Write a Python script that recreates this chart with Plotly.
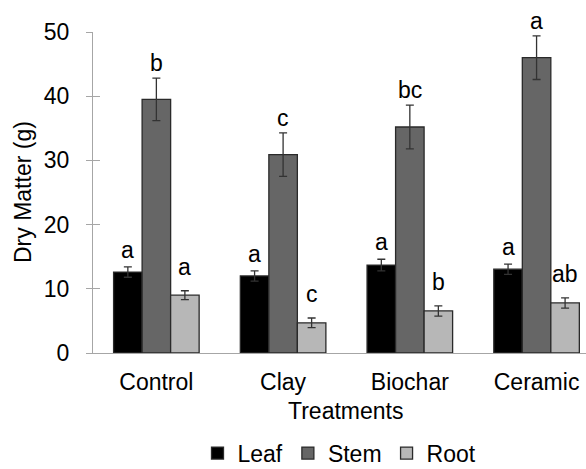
import plotly.graph_objects as go

categories = ["Control", "Clay", "Biochar", "Ceramic"]
leaf = [12.6, 12.0, 13.7, 13.05]
stem = [39.5, 30.9, 35.2, 46.0]
root = [9.0, 4.7, 6.55, 7.8]
leaf_err = [0.8, 0.8, 0.9, 0.8]
stem_err = [3.3, 3.4, 3.4, 3.4]
root_err = [0.7, 0.75, 0.8, 0.8]
leaf_letters = ["a", "a", "a", "a"]
stem_letters = ["b", "c", "bc", "a"]
root_letters = ["a", "c", "b", "ab"]

FONT = "Liberation Sans, Arial, sans-serif"
FS = 23
AXIS_COLOR = "#a6a6a6"
OUTLINE = "#2a2a2a"

series = [
    ("Leaf", leaf, leaf_err, leaf_letters, "#000000", 2),
    ("Stem", stem, stem_err, stem_letters, "#666666", 0),
    ("Root", root, root_err, root_letters, "#b7b7b7", 9),
]

BARGAP = 0.325
bar_w = (1 - BARGAP) / len(series)
xs = list(range(len(categories)))

fig = go.Figure()
annotations = []
for k, (name, vals, errs, letters, color, yshift) in enumerate(series):
    fig.add_trace(go.Bar(
        name=name, x=xs, y=vals,
        marker=dict(color=color, line=dict(color=OUTLINE, width=1.3)),
        error_y=dict(type="data", array=errs, visible=True,
                     color="#333333", thickness=1.3, width=4),
    ))
    off = (k - (len(series) - 1) / 2) * bar_w
    for i, (v, e, t) in enumerate(zip(vals, errs, letters)):
        annotations.append(dict(
            x=i + off, y=v + e, xref="x", yref="y", text=t, showarrow=False,
            yanchor="bottom", xanchor="center", yshift=yshift,
            font=dict(family=FONT, size=FS, color="#000000"),
        ))

# invisible trace to anchor the overlay axis used for crossing tick marks
fig.add_trace(go.Scatter(x=[0], y=[0], yaxis="y2", mode="markers",
                         marker=dict(opacity=0), showlegend=False,
                         hoverinfo="skip"))

annotations.append(dict(
    x=0.513, y=-0.182, xref="paper", yref="paper", text="Treatments",
    showarrow=False, xanchor="center", yanchor="middle",
    font=dict(family=FONT, size=FS, color="#000000"),
))
annotations.append(dict(
    x=-0.143, y=0.5, xref="paper", yref="paper", text="Dry Matter (g)",
    showarrow=False, xanchor="center", yanchor="middle", textangle=-90,
    font=dict(family=FONT, size=FS, color="#000000"),
))

fig.update_layout(
    width=586, height=469,
    margin=dict(l=93, r=0, t=32, b=116, pad=0, autoexpand=False),
    paper_bgcolor="white", plot_bgcolor="white",
    barmode="group", bargap=BARGAP, bargroupgap=0,
    font=dict(family=FONT, size=FS, color="#000000"),
    xaxis=dict(
        tickvals=xs, ticktext=categories, range=[-0.5, 3.39],
        showline=True, linecolor=AXIS_COLOR, linewidth=1.3,
        ticks="", showgrid=False, zeroline=False,
        tickfont=dict(family=FONT, size=FS, color="#000000"),
        ticklabelstandoff=8, automargin=False,
    ),
    yaxis=dict(
        range=[0, 50], tickvals=[0, 10, 20, 30, 40, 50],
        showline=True, linecolor=AXIS_COLOR, linewidth=1.3,
        ticks="outside", ticklen=6, tickcolor=AXIS_COLOR, tickwidth=1.3,
        showgrid=False, zeroline=False,
        tickfont=dict(family=FONT, size=FS, color="#000000"),
        ticklabelstandoff=12, automargin=False,
    ),
    yaxis2=dict(
        range=[0, 50], tickvals=[0, 10, 20, 30, 40, 50], overlaying="y",
        side="left", showline=False, ticks="inside", ticklen=7,
        tickcolor=AXIS_COLOR, tickwidth=1.3, showticklabels=False,
        showgrid=False, zeroline=False,
    ),
    legend=dict(
        orientation="h", x=0.5, xanchor="center", y=-0.245, yanchor="top",
        font=dict(family=FONT, size=FS, color="#000000"),
        itemclick=False, traceorder="normal",
    ),
    annotations=annotations,
    showlegend=True,
)

fig.write_html("out.html")
